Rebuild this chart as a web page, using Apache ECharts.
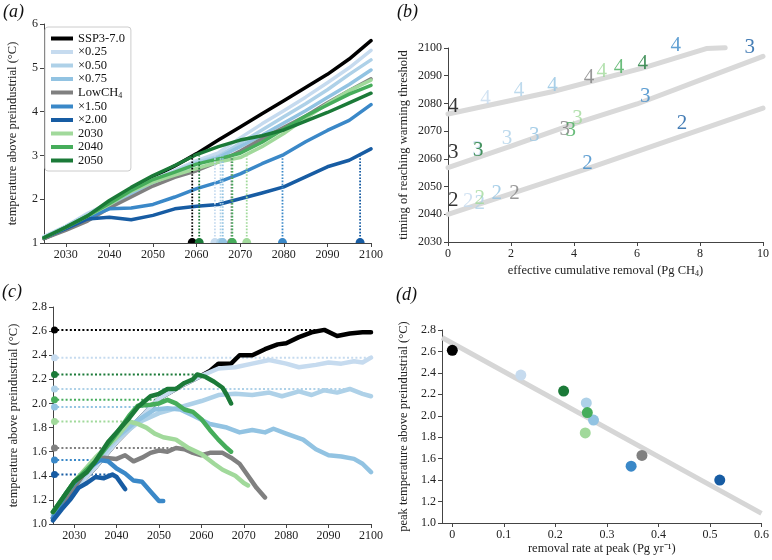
<!DOCTYPE html>
<html><head><meta charset="utf-8">
<script src="https://cdn.jsdelivr.net/npm/echarts@6/dist/echarts.min.js"></script>
<style>html,body{margin:0;padding:0;background:#fff}#c{width:772px;height:560px}</style>
</head><body><div id="c"></div>
<script>
const FONT = '"Liberation Serif","Times New Roman",serif';
const names = ['SSP3-7.0','×0.25','×0.50','×0.75','LowCH4','×1.50','×2.00','2030','2040','2050'];
const colors = ['#000000','#c6dbef','#aed1e8','#92c3e2','#808080','#3a88c8','#175ca3','#a1d99b','#46ad5b','#1b7a38'];

// Panel (a): temperature every 5 years
const yearsA = [2025,2030,2035,2040,2045,2050,2055,2060,2065,2070,2075,2080,2085,2090,2095,2100];
const aSSP  = [1.10,1.32,1.58,1.90,2.20,2.50,2.76,3.04,3.35,3.65,3.95,4.25,4.55,4.85,5.20,5.62];
const aX025 = [1.15,1.38,1.68,1.92,2.18,2.45,2.66,2.88,3.06,3.40,3.72,4.02,4.33,4.66,5.00,5.40];
const aX050 = [1.13,1.38,1.65,1.90,2.14,2.42,2.63,2.84,2.98,3.28,3.58,3.88,4.18,4.50,4.85,5.18];
const aX075 = [1.12,1.36,1.62,1.88,2.12,2.38,2.60,2.80,2.95,3.20,3.46,3.74,4.02,4.32,4.62,4.95];
const aLow  = [1.10,1.29,1.50,1.80,2.05,2.30,2.50,2.65,2.85,3.10,3.38,3.64,3.90,4.20,4.48,4.75];
const aX150 = [1.12,1.35,1.58,1.78,1.80,1.88,2.05,2.24,2.39,2.58,2.81,3.02,3.31,3.57,3.80,4.16];
const aX200 = [1.12,1.33,1.55,1.59,1.53,1.63,1.78,1.84,1.88,2.01,2.14,2.28,2.51,2.74,2.89,3.15];
const a2030 = [1.12,1.36,1.62,1.88,2.18,2.39,2.55,2.70,2.85,2.95,3.20,3.50,3.85,4.18,4.48,4.72];
const a2040 = [1.12,1.36,1.62,1.90,2.20,2.45,2.62,2.80,2.92,3.05,3.30,3.60,3.90,4.15,4.40,4.60];
const a2050 = [1.12,1.36,1.62,1.97,2.27,2.54,2.77,3.02,3.20,3.35,3.45,3.58,3.78,3.98,4.20,4.42];
const aCross = [2059.0,2064.2,2065.5,2066.0,2068.0,2079.7,2097.5,2071.5,2068.2,2060.6];
const aThreshold = 3;
const yearTicks = [2030,2040,2050,2060,2070,2080,2090,2100];

// Panel (b): threshold timing labels
const b2X = [0.17,0.64,1.01,1.55,2.11,4.43,7.43,1.01,null,null];
const b2Y = [2045.0,2044.6,2044.0,2047.6,2047.4,2058.4,2072.8,2045.8,null,null];
const b3X = [0.17,0.93,1.87,2.74,3.71,6.26,9.58,4.11,3.90,0.96];
const b3Y = [2062.2,2063.4,2067.4,2068.6,2070.7,2082.6,2100.3,2074.6,2070.4,2063.2];
const b4X = [0.17,1.19,2.25,3.32,4.48,7.23,null,4.88,5.43,6.18];
const b4Y = [2079.0,2081.8,2084.8,2086.6,2089.3,2100.9,null,2091.7,2092.9,2094.4];
const bFit2 = [[0,2040.0],[4.4,2056.4],[10,2078.3]];
const bFit3 = [[0,2056.8],[2,2064.6],[4,2072.6],[6,2079.8],[8,2088.4],[10,2097.0]];
const bFit4 = [[0,2076.2],[3.3,2084.2],[6.2,2092.8],[8.2,2099.8],[8.8,2100.1]];

// Panel (c)
const cSSP = [[2025,1.05],[2030,1.28],[2035,1.47],[2040,1.68],[2045,1.86],[2050,2.04],[2053,2.10],[2056,2.16],[2060,2.23],[2062,2.27],[2064,2.33],[2067,2.33],[2069,2.40],[2072,2.40],[2075,2.45],[2078,2.49],[2080,2.50],[2083,2.55],[2086,2.59],[2089,2.61],[2092,2.56],[2095,2.58],[2098,2.59],[2100,2.59]];
const cX025 = [[2025,1.05],[2030,1.28],[2035,1.47],[2040,1.68],[2045,1.86],[2050,2.04],[2053,2.10],[2056,2.16],[2060,2.23],[2064,2.29],[2068,2.30],[2072,2.33],[2076,2.36],[2080,2.33],[2083,2.30],[2087,2.32],[2090,2.34],[2093,2.33],[2096,2.35],[2098,2.34],[2100,2.38]];
const cX050 = [[2025,1.07],[2030,1.30],[2035,1.50],[2040,1.70],[2045,1.84],[2050,1.92],[2055,1.97],[2060,2.02],[2064,2.07],[2068,2.08],[2072,2.07],[2076,2.09],[2079,2.06],[2083,2.10],[2086,2.07],[2089,2.11],[2092,2.09],[2095,2.12],[2098,2.08],[2100,2.06]];
const cX075 = [[2025,1.08],[2030,1.34],[2035,1.54],[2040,1.72],[2045,1.86],[2049,1.95],[2052,1.96],[2055,1.95],[2058,1.90],[2062,1.83],[2066,1.80],[2069,1.76],[2072,1.78],[2075,1.76],[2077,1.79],[2080,1.75],[2084,1.70],[2087,1.62],[2090,1.57],[2093,1.56],[2096,1.54],[2098,1.50],[2100,1.43]];
const cLow = [[2025,1.10],[2028,1.20],[2031,1.35],[2034,1.50],[2037,1.55],[2040,1.54],[2042,1.57],[2044,1.52],[2046,1.55],[2048,1.59],[2050,1.61],[2052,1.60],[2054,1.63],[2056,1.62],[2058,1.59],[2060,1.57],[2062,1.59],[2065,1.59],[2067,1.55],[2069,1.50],[2071,1.40],[2073,1.30],[2075,1.22]];
const cX150 = [[2025,1.05],[2028,1.25],[2031,1.38],[2034,1.48],[2036,1.53],[2038,1.52],[2040,1.46],[2042,1.42],[2044,1.36],[2046,1.35],[2048,1.27],[2050,1.19],[2051,1.19]];
const cX200 = [[2025,1.03],[2027,1.12],[2029,1.20],[2031,1.30],[2033,1.34],[2035,1.39],[2037,1.38],[2039,1.41],[2040,1.39],[2041,1.34],[2042,1.29]];
const c2030 = [[2025,1.10],[2030,1.35],[2035,1.55],[2040,1.72],[2043,1.85],[2045,1.83],[2047,1.80],[2049,1.75],[2051,1.72],[2054,1.70],[2057,1.63],[2060,1.58],[2063,1.50],[2065,1.45],[2068,1.40],[2070,1.34],[2071,1.32]];
const c2040 = [[2025,1.10],[2030,1.35],[2035,1.52],[2040,1.75],[2043,1.90],[2045,1.98],[2048,1.99],[2050,2.00],[2052,2.03],[2054,2.00],[2056,1.95],[2058,1.93],[2060,1.87],[2062,1.78],[2064,1.70],[2066,1.63],[2067,1.60]];
const c2050 = [[2025,1.10],[2028,1.25],[2030,1.35],[2033,1.43],[2035,1.52],[2038,1.68],[2040,1.76],[2043,1.88],[2045,1.97],[2048,2.06],[2050,2.08],[2052,2.12],[2054,2.12],[2056,2.17],[2058,2.20],[2059,2.24],[2061,2.22],[2063,2.18],[2065,2.13],[2066,2.07],[2067,2.00]];
const cPeak = [2.61,2.38,2.12,1.97,1.63,1.53,1.41,1.85,2.03,2.24];
const cPeakYear = [2089,2100,2095,2050,2054,2036,2039,2043,2052,2059];

// Panel (d)
const dRate = [0.0,0.133,0.26,0.274,0.368,0.347,0.519,0.258,0.262,0.216];
const dPeak = [2.61,2.38,2.12,1.96,1.63,1.53,1.40,1.84,2.03,2.23];
const dFit = [[-0.02,2.73],[0.6,1.09]];
const dTicks = [0,0.1,0.2,0.3,0.4,0.5,0.6];

const aLines = [aSSP,aX025,aX050,aX075,aLow,aX150,aX200,a2030,a2040,a2050];
const cLines = [cSSP,cX025,cX050,cX075,cLow,cX150,cX200,c2030,c2040,c2050];

function ax(o) {
  const base = {
    type: 'value', splitLine: {show: false},
    axisLine: {show: true, onZero: false, lineStyle: {color: '#444', width: 1}},
    axisTick: {show: true, length: 4, lineStyle: {color: '#444'}},
    axisLabel: {color: '#222', fontFamily: FONT, fontSize: 12, margin: 6, formatter: v => String(v)},
    nameLocation: 'middle',
    nameTextStyle: {color: '#222', fontFamily: FONT, fontSize: 12.5, rich: {s: {fontFamily: FONT, fontSize: 8, padding: [7,0,0,0]}}}
  };
  for (const k in o) {
    if (base[k] && typeof base[k] === 'object' && !Array.isArray(base[k]) && typeof o[k] === 'object') base[k] = Object.assign({}, base[k], o[k]);
    else base[k] = o[k];
  }
  return base;
}

const series = [];
names.forEach((n, i) => {
  series.push({name: n, type: 'line', xAxisIndex: 0, yAxisIndex: 0, showSymbol: false, symbol: 'none',
    data: yearsA.map((y, k) => [y, aLines[i][k]]),
    lineStyle: {color: colors[i], width: 3.5, cap: 'round', join: 'round'}, itemStyle: {color: colors[i]}, z: 3});
});
names.forEach((n, i) => {
  series.push({name: 'a-dot-' + i, type: 'line', xAxisIndex: 0, yAxisIndex: 0, symbol: 'none',
    data: [[aCross[i], 1], [aCross[i], aThreshold]],
    lineStyle: {color: colors[i], width: 1.8, type: [1.6, 1.6]}, z: 4});
});
names.forEach((n, i) => {
  series.push({name: 'a-mk-' + i, type: 'scatter', xAxisIndex: 0, yAxisIndex: 0, clip: false,
    symbol: 'path://M0,10 A10,10 0 0 1 20,10 Z', symbolSize: [9, 5], symbolOffset: [0, -2.5],
    data: [[aCross[i], 1]], itemStyle: {color: colors[i], opacity: 1}, z: 5});
});
[bFit2, bFit3, bFit4].forEach((f, k) => {
  series.push({name: 'b-fit-' + k, type: 'line', xAxisIndex: 1, yAxisIndex: 1, symbol: 'none', clip: false,
    data: f, lineStyle: {color: '#d9d9d9', width: 5, cap: 'round'}, z: 2});
});
names.forEach((n, i) => {
  const d = [];
  if (b2X[i] != null) d.push([b2X[i], b2Y[i], '2']);
  if (b3X[i] != null) d.push([b3X[i], b3Y[i], '3']);
  if (b4X[i] != null) d.push([b4X[i], b4Y[i], '4']);
  series.push({name: 'b-lab-' + i, type: 'scatter', xAxisIndex: 1, yAxisIndex: 1, clip: false,
    symbolSize: 1, itemStyle: {color: 'transparent'}, data: d,
    label: {show: true, position: 'inside', formatter: p => p.value[2], color: colors[i], fontFamily: FONT, fontSize: 21}, z: 3});
});
names.forEach((n, i) => {
  series.push({name: 'c-dot-' + i, type: 'line', xAxisIndex: 2, yAxisIndex: 2, symbol: 'none',
    data: [[2025, cPeak[i]], [cPeakYear[i], cPeak[i]]],
    lineStyle: {color: colors[i], width: 2, type: [2, 2.2]}, z: 2});
});
names.forEach((n, i) => {
  series.push({name: 'c-line-' + i, type: 'line', xAxisIndex: 2, yAxisIndex: 2, symbol: 'none',
    data: cLines[i], lineStyle: {color: colors[i], width: 4.5, cap: 'round', join: 'round'}, z: 3});
});
names.forEach((n, i) => {
  series.push({name: 'c-mk-' + i, type: 'scatter', xAxisIndex: 2, yAxisIndex: 2, clip: false,
    symbol: 'circle', symbolSize: 7, symbolOffset: [1.5, 0],
    data: [[2025, cPeak[i]]], itemStyle: {color: colors[i], opacity: 1}, z: 5});
});
series.push({name: 'd-fit', type: 'line', xAxisIndex: 3, yAxisIndex: 3, symbol: 'none',
  data: dFit, lineStyle: {color: '#d6d6d6', width: 5}, z: 2});
names.forEach((n, i) => {
  series.push({name: 'd-pt-' + i, type: 'scatter', xAxisIndex: 3, yAxisIndex: 3, symbol: 'circle', symbolSize: 11,
    data: [[dRate[i], dPeak[i]]], itemStyle: {color: colors[i], opacity: 1}, z: 3});
});

const option = {
  animation: false,
  backgroundColor: '#fff',
  textStyle: {fontFamily: FONT},
  grid: [
    {left: 44, top: 24, width: 327, height: 219},
    {left: 448, top: 48, width: 317, height: 194},
    {left: 53, top: 307, width: 318, height: 217},
    {left: 442, top: 330, width: 320, height: 193}
  ],
  xAxis: [
    ax({gridIndex: 0, min: 2025, max: 2100, axisTick: {customValues: yearTicks}, axisLabel: {customValues: yearTicks}}),
    ax({gridIndex: 1, min: 0, max: 10, interval: 2, name: 'effective cumulative removal (Pg CH{s|4})', nameGap: 21}),
    ax({gridIndex: 2, min: 2025, max: 2100, axisTick: {customValues: yearTicks}, axisLabel: {customValues: yearTicks}}),
    ax({gridIndex: 3, min: -0.02, max: 0.6, axisTick: {customValues: dTicks}, axisLabel: {customValues: dTicks, formatter: v => v === 0 ? '0' : v.toFixed(1)}, name: 'removal rate at peak (Pg yr⁻¹)', nameGap: 17})
  ],
  yAxis: [
    ax({gridIndex: 0, min: 1, max: 6, interval: 1, name: 'temperature above preindustrial (°C)', nameGap: 25}),
    ax({gridIndex: 1, min: 2030, max: 2100, interval: 10, name: 'timing of reaching warming threshold', nameGap: 38}),
    ax({gridIndex: 2, min: 1, max: 2.8, interval: 0.2, axisLabel: {formatter: v => v.toFixed(1)}, name: 'temperature above preindustrial (°C)', nameGap: 33}),
    ax({gridIndex: 3, min: 1, max: 2.8, interval: 0.2, axisLabel: {formatter: v => v.toFixed(1)}, name: 'peak temperature above preindustrial (°C)', nameGap: 32})
  ],
  legend: {
    data: names, orient: 'vertical', left: 45, top: 27, padding: [5, 6, 4, 6],
    itemWidth: 22, itemHeight: 4, itemGap: 0.5, icon: 'rect', selectedMode: false,
    borderColor: '#cccccc', borderWidth: 1, borderRadius: 3, backgroundColor: '#ffffff',
    textStyle: {fontFamily: FONT, fontSize: 12.5, color: '#111', lineHeight: 13,
      rich: {s: {fontFamily: FONT, fontSize: 8, color: '#111', padding: [6, 0, 0, 0]}}},
    formatter: n => n === 'LowCH4' ? 'LowCH{s|4}' : n,
    z: 10
  },
  graphic: [
    {type: 'text', left: 3, top: 3, style: {text: '(a)', font: 'italic 18px "Liberation Serif"', fill: '#111'}},
    {type: 'text', left: 397, top: 3, style: {text: '(b)', font: 'italic 18px "Liberation Serif"', fill: '#111'}},
    {type: 'text', left: 2, top: 283, style: {text: '(c)', font: 'italic 18px "Liberation Serif"', fill: '#111'}},
    {type: 'text', left: 396, top: 286, style: {text: '(d)', font: 'italic 18px "Liberation Serif"', fill: '#111'}}
  ],
  series: series
};
const chart = echarts.init(document.getElementById('c'), null, {renderer: 'canvas'});
chart.setOption(option);
</script></body></html>
